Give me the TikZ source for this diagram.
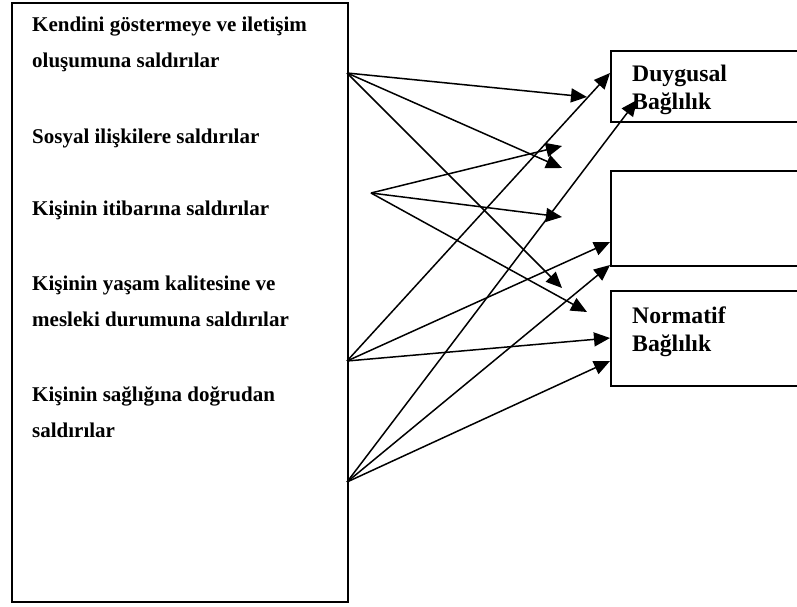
\documentclass[tikz,border=0pt]{standalone}
\usepackage{fontspec}
\setmainfont{Liberation Serif}
\usetikzlibrary{arrows.meta}

\begin{document}
\begin{tikzpicture}[x=1pt,y=-1pt]
		\tikzset{box/.style = {draw, line width=1.8pt, inner sep=0pt, anchor=north west}}
		\tikzset{item/.style = {anchor=base west, align=left, inner sep=0pt, font=\bfseries\fontsize{21}{36}\selectfont}}
		\tikzset{title/.style = {anchor=base west, align=left, inner sep=0pt, font=\bfseries\fontsize{23.7}{28}\selectfont}}
		\tikzset{edge/.style = {-{Triangle[length=16pt,width=14pt]}, line width=1.5pt}}
		
		\clip (0,0) rectangle (797,607);
		
		\node[box, minimum width=336pt, minimum height=599pt] (1) at ( 11,  2) {};
		\node[box, minimum width=230pt, minimum height= 71pt] (2) at (610, 50) {};
		\node[box, minimum width=230pt, minimum height= 95pt] (3) at (610,170) {};
		\node[box, minimum width=230pt, minimum height= 95pt] (4) at (610,290) {};
		
		% base is on the last line
		\node[item]  (5) at ( 32, 68) {Kendini göstermeye ve iletişim\\oluşumuna saldırılar};
		\node[item]  (6) at ( 32,143) {Sosyal ilişkilere saldırılar};
		\node[item]  (7) at ( 32,215) {Kişinin itibarına saldırılar};
		\node[item]  (8) at ( 32,326) {Kişinin yaşam kalitesine ve\\mesleki durumuna saldırılar};
		\node[item]  (9) at ( 32,437) {Kişinin sağlığına doğrudan\\saldırılar};
		
		\node[title] (10) at (632,110) {Duygusal\\Bağlılık};
		\node[title] (11) at (632,351) {Normatif\\Bağlılık};
		
		\coordinate (12) at (347, 73);
		\coordinate (13) at (371,193);
		\coordinate (14) at (347,361);
		\coordinate (15) at (347,482);
		
		\coordinate (16) at (587, 97);
		\coordinate (17) at (562,168);
		\coordinate (18) at (562,288);
		\coordinate (19) at (562,146);
		\coordinate (20) at (562,217);
		\coordinate (21) at (587,312);
		\coordinate (22) at (610, 73);
		\coordinate (23) at (610,242);
		\coordinate (24) at (610,338);
		\coordinate (25) at (637,100);
		\coordinate (26) at (610,265);
		\coordinate (27) at (610,361);
		
		\draw[edge] (12) to (16);
		\draw[edge] (12) to (17);
		\draw[edge] (12) to (18);
		\draw[edge] (13) to (19);
		\draw[edge] (13) to (20);
		\draw[edge] (13) to (21);
		\draw[edge] (14) to (22);
		\draw[edge] (14) to (23);
		\draw[edge] (14) to (24);
		\draw[edge] (15) to (25);
		\draw[edge] (15) to (26);
		\draw[edge] (15) to (27);
\end{tikzpicture}
\end{document}
